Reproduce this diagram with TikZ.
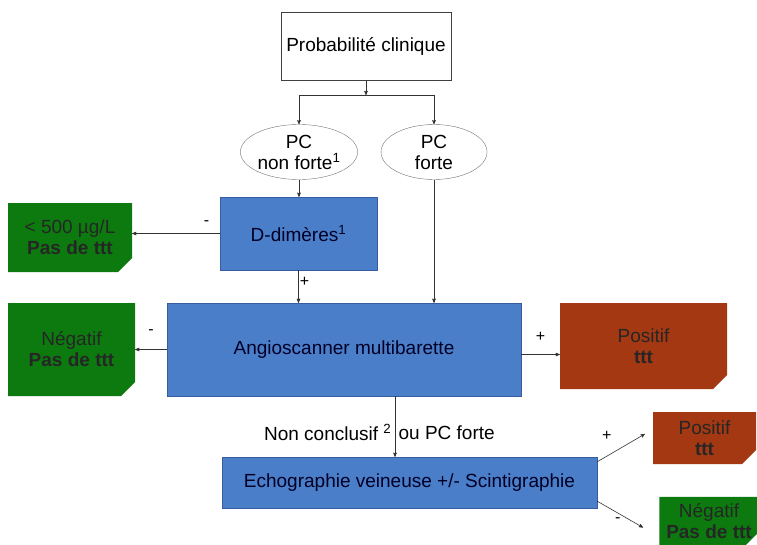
\documentclass[tikz,border=0pt]{standalone}
\usepackage{fontspec}
\setmainfont{Liberation Sans}
\usetikzlibrary{arrows,shapes.geometric,shapes.misc}
\definecolor{boxblue}{RGB}{74,126,200}
\definecolor{boxborder}{RGB}{52,92,158}
\definecolor{neggreen}{RGB}{12,122,14}
\definecolor{posred}{RGB}{163,56,18}
\begin{document}
\begin{tikzpicture}
      [x=1pt, y=-1pt,
        >=stealth',
        font=\fontsize{19}{21}\selectfont,
        start/.style={
          rectangle,
          draw=black!75, thin, fill=white,
          minimum width=170pt,
          minimum height=68pt},
        pc/.style={
          ellipse,
          draw=black!55, thin,
          align=center,
          inner sep=0pt},
        exam/.style={
          rectangle,
          draw=boxborder, thin, fill=boxblue,
          text=black!85!blue,
          align=center,
          inner sep=0pt},
        result/.style={
          chamfered rectangle,
          chamfered rectangle corners=south east,
          chamfered rectangle xsep=7pt,
          chamfered rectangle ysep=7pt,
          text=black!85,
          align=center,
          inner sep=0pt},
        negbox/.style={result, fill=neggreen},
        posbox/.style={result, fill=posred},
        line/.style={draw=black!80, semithick, ->},
        sign/.style={font=\fontsize{16}{16}\selectfont, inner sep=1pt}]
      \useasboundingbox (0,0) rectangle (757,544);
      \node[start] (proba) at (366,46) {Probabilité clinique};
      \node[pc, minimum width=114pt, minimum height=55pt] (nonforte) at (299,152) {PC\\non forte\textsuperscript{1}};
      \node[pc, minimum width=106pt, minimum height=55pt] (forte) at (434,152) {PC\\forte};
      \node[exam, minimum width=157pt, minimum height=73pt] (ddimeres) at (298.5,233.5) {D-dimères\textsuperscript{1}};
      \node[exam, minimum width=354pt, minimum height=93pt] (angio) at (344,349.5) {Angioscanner multibarette};
      \node[exam, minimum width=375pt, minimum height=51pt] (echo) at (409.5,482.5) {Echographie veineuse +/- Scintigraphie};
      \node[negbox, minimum width=124pt, minimum height=69pt] (neg1) at (70,237.5) {< 500 µg/L\\\textbf{Pas de ttt}};
      \node[negbox, minimum width=127pt, minimum height=93pt] (neg2) at (71.5,349.5) {Négatif\\\textbf{Pas de ttt}};
      \node[posbox, minimum width=167pt, minimum height=86pt] (pos1) at (643.5,346) {Positif\\\textbf{ttt}};
      \node[posbox, minimum width=103pt, minimum height=52pt] (pos2) at (704.5,438) {Positif\\\textbf{ttt}};
      \node[negbox, minimum width=96pt, minimum height=45pt] (neg3) at (709,521.5) {Négatif\\\textbf{Pas de ttt}};
      \coordinate (split) at (proba.south |- 0,95);
      \draw[line] (proba.south) -- (split);
      \draw[line] (split) -| (nonforte.north);
      \draw[line] (split) -| (forte.north);
      \draw[line] (nonforte.south) -- (nonforte.south |- ddimeres.north);
      \draw[line] (ddimeres.west) -- node[sign, above=7pt, pos=.15] {-} (ddimeres.west -| neg1.east);
      \draw[line] (ddimeres.south) -- node[sign, right, pos=.35] {+} (ddimeres.south |- angio.north);
      \draw[line] (forte.south) -- (forte.south |- angio.north);
      \draw[line] (angio.west) -- node[sign, above=14pt] {-} (angio.west -| neg2.east);
      \draw[line] ([yshift=-5pt]angio.east) -- node[sign, above=12pt] {+} ([yshift=-5pt]angio.east -| pos1.west);
      \draw[line] ([xshift=51pt]angio.south) -- node[left, pos=.6] {Non conclusif \textsuperscript{2}} node[right, pos=.6] {ou PC forte} ([xshift=51pt]angio.south |- echo.north);
      \draw[line] ([yshift=-5pt]echo.north east) -- node[sign, above=14pt, pos=.2] {+} ([xshift=-8pt, yshift=4pt]pos2.west);
      \draw[line] ([yshift=7pt]echo.south east) -- node[sign, below=3pt, pos=.45] {-} ([xshift=-16pt, yshift=-6pt]neg3.west);
    \end{tikzpicture}
\end{document}
